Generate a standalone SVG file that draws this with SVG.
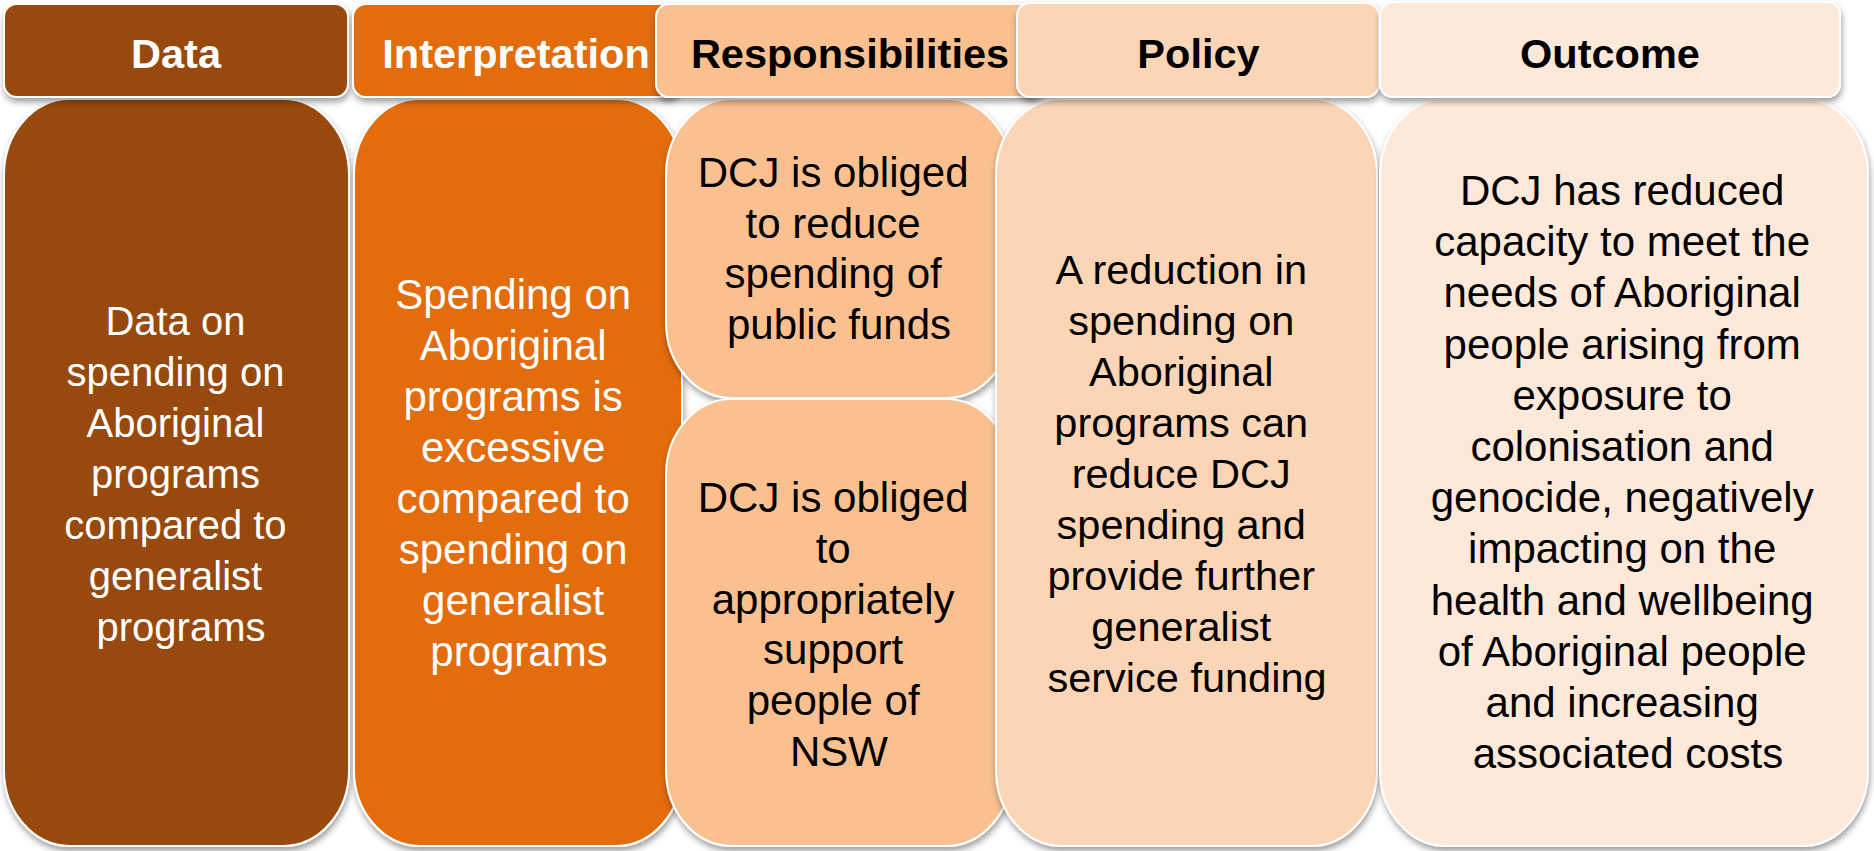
<svg xmlns="http://www.w3.org/2000/svg" width="1874" height="851" viewBox="0 0 1874 851">
<defs>
<filter id="sh" x="-10%" y="-10%" width="120%" height="125%">
<feDropShadow dx="1" dy="4" stdDeviation="3" flood-color="#000" flood-opacity="0.38"/>
</filter>
<style>
.box{stroke:#fff;stroke-width:2;filter:url(#sh)}
.c1{fill:#984807}.c2{fill:#E36C0A}.c3{fill:#FAC090}.c4{fill:#FBD5B5}.c5{fill:#FDE9D9}
.hd{font-family:"Liberation Sans",Arial,sans-serif;font-weight:bold;font-size:41.5px;text-anchor:middle}
.bd{font-family:"Liberation Sans",Arial,sans-serif;text-anchor:middle}
.w{fill:#fff}.k{fill:#000}
</style>
</defs>
<rect width="1874" height="851" fill="#fff"/>
<g id="connectors"></g>

<g id="data-body">
<rect class="box c1" x="4" y="99" width="345" height="747" rx="66" ry="76"/>
<text class="bd w" font-size="40">
<tspan x="181" y="335">Data on</tspan>
<tspan x="181" y="386">spending on</tspan>
<tspan x="181" y="437">Aboriginal</tspan>
<tspan x="181" y="488">programs</tspan>
<tspan x="181" y="539">compared to</tspan>
<tspan x="181" y="590">generalist</tspan>
<tspan x="181" y="641">programs</tspan>
</text>
</g>

<g id="interpretation-body">
<rect class="box c2" x="354" y="99" width="328" height="747" rx="66" ry="76"/>
<text class="bd w" font-size="42">
<tspan x="519" y="309">Spending on</tspan>
<tspan x="519" y="360">Aboriginal</tspan>
<tspan x="519" y="411">programs is</tspan>
<tspan x="519" y="462">excessive</tspan>
<tspan x="519" y="513">compared to</tspan>
<tspan x="519" y="564">spending on</tspan>
<tspan x="519" y="615">generalist</tspan>
<tspan x="519" y="666">programs</tspan>
</text>
</g>

<g id="resp-top">
<rect class="box c3" x="666" y="99" width="346" height="299" rx="66" ry="76"/>
<text class="bd k" font-size="42">
<tspan x="839" y="187">DCJ is obliged</tspan>
<tspan x="839" y="237.5">to reduce</tspan>
<tspan x="839" y="288">spending of</tspan>
<tspan x="839" y="338.5">public funds</tspan>
</text>
</g>

<g id="resp-bottom">
<rect class="box c3" x="666" y="399" width="346" height="447" rx="66" ry="76"/>
<text class="bd k" font-size="42">
<tspan x="839" y="512">DCJ is obliged</tspan>
<tspan x="839" y="563">to</tspan>
<tspan x="839" y="614">appropriately</tspan>
<tspan x="839" y="664">support</tspan>
<tspan x="839" y="715">people of</tspan>
<tspan x="839" y="766">NSW</tspan>
</text>
</g>

<g id="policy-body">
<rect class="box c4" x="996" y="99" width="381" height="747" rx="66" ry="76"/>
<text class="bd k" font-size="41.5">
<tspan x="1187" y="284">A reduction in</tspan>
<tspan x="1187" y="335">spending on</tspan>
<tspan x="1187" y="386">Aboriginal</tspan>
<tspan x="1187" y="437">programs can</tspan>
<tspan x="1187" y="488">reduce DCJ</tspan>
<tspan x="1187" y="539">spending and</tspan>
<tspan x="1187" y="590">provide further</tspan>
<tspan x="1187" y="641">generalist</tspan>
<tspan x="1187" y="692">service funding</tspan>
</text>
</g>

<g id="outcome-body">
<rect class="box c5" x="1380" y="99" width="488" height="747" rx="66" ry="76"/>
<text class="bd k" font-size="42">
<tspan x="1628" y="205">DCJ has reduced</tspan>
<tspan x="1628" y="256">capacity to meet the</tspan>
<tspan x="1628" y="307">needs of Aboriginal</tspan>
<tspan x="1628" y="359">people arising from</tspan>
<tspan x="1628" y="410">exposure to</tspan>
<tspan x="1628" y="461">colonisation and</tspan>
<tspan x="1628" y="512">genocide, negatively</tspan>
<tspan x="1628" y="563">impacting on the</tspan>
<tspan x="1628" y="615">health and wellbeing</tspan>
<tspan x="1628" y="666">of Aboriginal people</tspan>
<tspan x="1628" y="717">and increasing</tspan>
<tspan x="1628" y="768">associated costs</tspan>
</text>
</g>

<g id="data-header">
<rect class="box c1" x="4" y="4" width="344" height="93" rx="13"/>
<text class="hd w" x="176" y="68">Data</text>
</g>
<g id="interpretation-header">
<rect class="box c2" x="353" y="4" width="327" height="93" rx="13"/>
<text class="hd w" x="516" y="68">Interpretation</text>
</g>
<g id="responsibilities-header">
<rect class="box c3" x="656" y="4" width="388" height="93" rx="13"/>
<text class="hd k" x="850" y="68">Responsibilities</text>
</g>
<g id="policy-header">
<rect class="box c4" x="1017" y="3" width="362" height="94" rx="13"/>
<text class="hd k" x="1198.5" y="68">Policy</text>
</g>
<g id="outcome-header">
<rect class="box c5" x="1380" y="2" width="460" height="95" rx="13"/>
<text class="hd k" x="1610" y="68">Outcome</text>
</g>
</svg>
